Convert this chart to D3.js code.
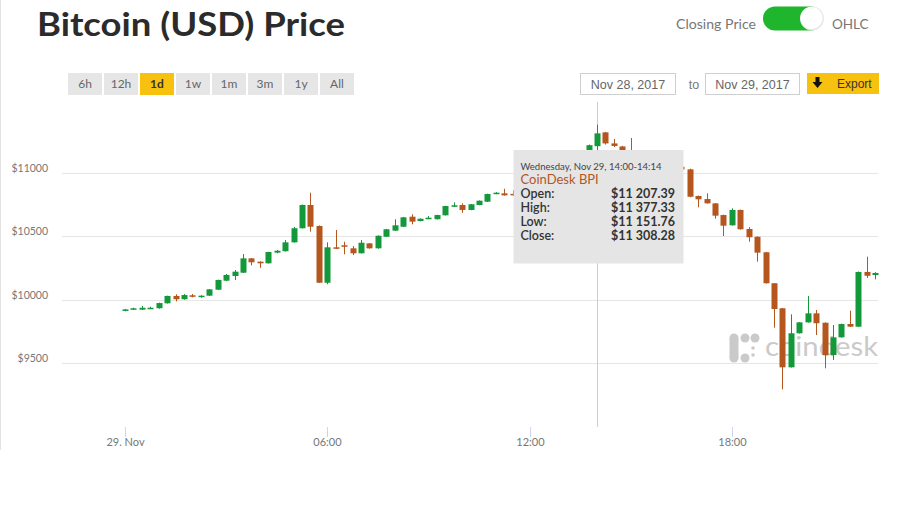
<!DOCTYPE html>
<html><head><meta charset="utf-8">
<script src="https://cdn.jsdelivr.net/npm/d3@7"></script>
<style>html,body{margin:0;padding:0;background:#fff;}svg{display:block}</style>
</head><body>
<svg id="chart" width="900" height="506"></svg>
<script>
// ---------- DATA ----------
const times = ["00:00","00:15","00:30","00:45","01:00","01:15","01:30","01:45","02:00","02:15","02:30","02:45",
"03:00","03:15","03:30","03:45","04:00","04:15","04:30","04:45","05:00","05:15","05:30","05:45",
"06:00","06:15","06:30","06:45","07:00","07:15","07:30","07:45","08:00","08:15","08:30","08:45",
"09:00","09:15","09:30","09:45","10:00","10:15","10:30","10:45","11:00","11:15","11:30","11:45",
"12:00","12:15","12:30","12:45","13:00","13:15","13:30","13:45","14:00","14:15","14:30","14:45",
"15:00","15:15","15:30","15:45","16:00","16:15","16:30","16:45","17:00","17:15","17:30","17:45",
"18:00","18:15","18:30","18:45","19:00","19:15","19:30","19:45","20:00","20:15","20:30","20:45",
"21:00","21:15","21:30","21:45","22:00","22:15"];
const openP = [9910,9923,9920,9928,9931,9970,10028,10002,10033,10022,10030,10077,10148,10185,10211,10324,10298,10285,10369,10380,
10450,10561,10744,10579,10132,10411,10427,10403,10364,10442,10403,10494,10542,10573,10652,10618,10634,10632,10663,10731,
10744,10705,10744,10770,10831,10836,10832,10822,10870,10905,10890,10950,11010,11060,11110,11150,11207.39,11316,11229,11205,
11140,11100,11080,11095,11060,11070,11045,11025,10815,10791,10757,10665,10584,10705,10555,10494,10372,10128,9931,9466,
9734,9820,9891,9817,9563,9702,9807,9786,10217,10193];
const highP = [9925,9935,9949,9943,9975,10030,10041,10043,10043,10033,10083,10156,10201,10232,10358,10326,10300,10376,10390,10468,
10571,10748,10841,10583,10450,10547,10455,10421,10468,10445,10505,10556,10632,10650,10671,10638,10657,10667,10738,10765,
10757,10752,10780,10833,10845,10872,10860,10880,10915,10920,10960,11020,11075,11120,11165,11220,11377.33,11320,11264,11210,
11272,11110,11105,11100,11080,11075,11050,11030,10818,10836,10760,10668,10718,10708,10569,10497,10375,10130,9933,9883,
9822,10028,9917,9820,9799,9810,9912,10220,10337,10215];
const lowP = [9907,9920,9918,9925,9928,9968,9985,9998,10017,10014,10028,10075,10146,10154,10209,10269,10250,10283,10364,10378,
10448,10559,10534,10130,10120,10398,10356,10350,10362,10400,10400,10492,10540,10570,10592,10616,10632,10630,10661,10729,
10683,10703,10742,10768,10829,10818,10815,10815,10860,10880,10885,10940,11000,11050,11100,11140,11151.76,11220,11200,11130,
11090,11060,11070,11050,11040,11030,11015,10805,10726,10755,10636,10500,10582,10550,10455,10298,10125,9778,9293,9464,
9732,9818,9720,9458,9524,9700,9784,9784,10170,10159];
const closeP = [9922,9931,9935,9935,9972,10028,10002,10035,10022,10030,10080,10154,10193,10219,10324,10293,10285,10374,10384,10450,
10561,10744,10573,10132,10411,10400,10416,10364,10447,10403,10502,10553,10584,10647,10613,10636,10644,10665,10736,10742,
10705,10750,10778,10831,10841,10820,10822,10870,10905,10890,10950,11010,11060,11110,11150,11215,11308.28,11229,11209,11140,
11100,11080,11095,11060,11070,11045,11024,10809,10789,10757,10660,10581,10705,10553,10490,10369,10128,9925,9466,9734,
9820,9891,9813,9563,9702,9807,9786,10217,10187,10209];
const yTickValues = [9500,10000,10500,11000];
const xTickTimes = ["00:00","06:00","12:00","18:00"];
const xTickLabels = ["29. Nov","06:00","12:00","18:00"];
const rangeButtons = ["6h","12h","1d","1w","1m","3m","1y","All"];
const activeButton = "1d";
const dateFrom = "Nov 28, 2017", dateTo = "Nov 29, 2017";
const hoverTime = "14:00";
const tipHeader = "Wednesday, Nov 29, 14:00-14:14";
const tipSeries = "CoinDesk BPI";
const tipLabels = ["Open:","High:","Low:","Close:"];
const tipValues = ["$11 207.39","$11 377.33","$11 151.76","$11 308.28"];

// ---------- SETUP ----------
const svg = d3.select("#chart");
const parse = d3.timeParse("%Y-%m-%d %H:%M");
const T = t => parse("2017-11-29 " + t);
const plotL = 62, plotR = 878, plotT = 102, plotB = 427;

const x = d3.scaleTime().domain([T("00:00"), T("18:00")]).range([125, 731.8]);
const y = d3.scaleLinear().domain([9000, 11000]).range([426.5, 172.5]);

const GREEN = "#13983a", ORANGE = "#b5561f";

// left faint border
svg.append("line").attr("x1",0.5).attr("x2",0.5).attr("y1",0).attr("y2",450).attr("stroke","#e3e3e3");

// Title
svg.append("text").attr("x",37).attr("y",36).text("Bitcoin (USD) Price")
  .attr("font-family","Lato, 'Open Sans', sans-serif").attr("font-weight",700).attr("font-size",33)
  .attr("fill","#2b2b2b").attr("textLength",308).attr("lengthAdjust","spacingAndGlyphs");

// Toggle
svg.append("text").attr("x",756).attr("y",29).attr("text-anchor","end").text("Closing Price")
  .attr("font-family","Lato, sans-serif").attr("font-size",13.5).attr("fill","#777")
  .attr("textLength",80).attr("lengthAdjust","spacingAndGlyphs");
svg.append("rect").attr("x",763).attr("y",6.5).attr("width",60).attr("height",24).attr("rx",12).attr("fill","#1fb52c");
svg.append("circle").attr("cx",812).attr("cy",18.5).attr("r",12).attr("fill","#e8e8e8");
svg.append("circle").attr("cx",811.5).attr("cy",18).attr("r",11).attr("fill","#fff");
svg.append("text").attr("x",832).attr("y",29).text("OHLC")
  .attr("font-family","Lato, sans-serif").attr("font-size",13.5).attr("fill","#777");

// Range buttons
const bg = svg.append("g");
rangeButtons.forEach((b,i)=>{
  const bx = 68 + i*36;
  bg.append("rect").attr("x",bx).attr("y",73).attr("width",34).attr("height",22)
    .attr("fill", b===activeButton ? "#f7c10f" : "#e6e6e6");
  bg.append("text").attr("x",bx+17).attr("y",88).attr("text-anchor","middle").text(b)
    .attr("font-family","Lato, sans-serif").attr("font-size",12)
    .attr("font-weight", b===activeButton ? 700 : 400)
    .attr("fill", b===activeButton ? "#333" : "#666");
});

// Date inputs
function dateBox(x0, w, label){
  svg.append("rect").attr("x",x0+0.5).attr("y",73.5).attr("width",w).attr("height",21)
    .attr("fill","#fff").attr("stroke","#cfcfcf");
  svg.append("text").attr("x",x0+w/2+0.5).attr("y",88.5).attr("text-anchor","middle").text(label)
    .attr("font-family","'Liberation Sans', Arial, sans-serif").attr("font-size",12.5).attr("fill","#666");
}
dateBox(580, 95, dateFrom);
svg.append("text").attr("x",694).attr("y",88.5).attr("text-anchor","middle").text("to")
  .attr("font-family","'Liberation Sans', Arial, sans-serif").attr("font-size",12.5).attr("fill","#777");
dateBox(705, 94, dateTo);
// Export
svg.append("rect").attr("x",807).attr("y",73).attr("width",72).attr("height",21).attr("fill","#f7c10f");
svg.append("path").attr("d","M815.5,77 h4 v5 h3 l-5,6 l-5,-6 h3 z").attr("fill","#111");
svg.append("text").attr("x",837).attr("y",87.5).text("Export")
  .attr("font-family","'Liberation Sans', Arial, sans-serif").attr("font-size",12).attr("fill","#333");

// Gridlines + y labels
const yAxisG = svg.append("g");
yTickValues.forEach(v=>{
  const yy = Math.round(y(v))+0.5;
  yAxisG.append("line").attr("x1",plotL).attr("x2",plotR).attr("y1",yy).attr("y2",yy).attr("stroke","#e6e6e6");
  yAxisG.append("text").attr("x",48).attr("y",yy-1.5).attr("text-anchor","end").text("$"+v)
    .attr("font-family","Lato, sans-serif").attr("font-size",10.5).attr("fill","#777");
});

// X axis ticks
xTickTimes.forEach((t,i)=>{
  const xx = Math.round(x(T(t)))+0.5;
  svg.append("line").attr("x1",xx).attr("x2",xx).attr("y1",plotB).attr("y2",plotB+10).attr("stroke","#ccd6eb");
  svg.append("text").attr("x",xx).attr("y",plotB+19).attr("text-anchor","middle").text(xTickLabels[i])
    .attr("font-family","Lato, sans-serif").attr("font-size",11).attr("fill","#777");
});

// Watermark
const wm = svg.append("g").attr("fill","#cacaca");
[[734,338],[745,338],[755,338],[734,358],[745,358]].forEach(p=>wm.append("circle").attr("cx",p[0]).attr("cy",p[1]).attr("r",4.5));
wm.append("rect").attr("x",729.5).attr("y",338).attr("width",9).attr("height",20);
[[753,348],[753,355]].forEach(p=>wm.append("circle").attr("cx",p[0]).attr("cy",p[1]).attr("r",1.8));
wm.append("text").attr("x",765).attr("y",356).text("coindesk")
  .attr("font-family","Lato, sans-serif").attr("font-size",27).attr("textLength",113).attr("lengthAdjust","spacingAndGlyphs");

// Crosshair
const hx = Math.round(x(T(hoverTime)))+0.5;
svg.append("line").attr("x1",hx).attr("x2",hx).attr("y1",plotT).attr("y2",plotB).attr("stroke","#cccccc");

// Candles
const data = times.map((t,i)=>({t:T(t), o:openP[i], h:highP[i], l:lowP[i], c:closeP[i]}));
const cg = svg.append("g");
data.forEach(d=>{
  const cx = Math.round(x(d.t));
  const col = d.c >= d.o ? GREEN : ORANGE;
  cg.append("line").attr("x1",cx+0.5).attr("x2",cx+0.5).attr("y1",y(d.h)).attr("y2",y(d.l)).attr("stroke",col).attr("stroke-width",1);
  const top = y(Math.max(d.o,d.c)), bot = y(Math.min(d.o,d.c));
  cg.append("rect").attr("x",cx-2.5).attr("y",top).attr("width",6).attr("height",Math.max(1.5,bot-top)).attr("fill",col);
});

// Tooltip
const tg = svg.append("g");
tg.append("rect").attr("x",513.5).attr("y",150).attr("width",170).attr("height",113.5).attr("fill","#e5e5e5");
tg.append("text").attr("x",520.5).attr("y",169.5).text(tipHeader)
  .attr("font-family","Lato, sans-serif").attr("font-size",10).attr("fill","#444")
  .attr("textLength",141).attr("lengthAdjust","spacingAndGlyphs");
tg.append("text").attr("x",520.5).attr("y",183.5).text(tipSeries)
  .attr("font-family","Lato, sans-serif").attr("font-size",13).attr("fill","#b5561f");
tipLabels.forEach((lab,i)=>{
  const yy = 198 + i*14;
  tg.append("text").attr("x",520.5).attr("y",yy).text(lab)
    .attr("font-family","Lato, sans-serif").attr("font-size",12.5).attr("font-weight",600).attr("fill","#333");
  tg.append("text").attr("x",675).attr("y",yy).attr("text-anchor","end").text(tipValues[i])
    .attr("font-family","Lato, sans-serif").attr("font-size",12.5).attr("font-weight",700).attr("fill","#333");
});
</script>
</body></html>
